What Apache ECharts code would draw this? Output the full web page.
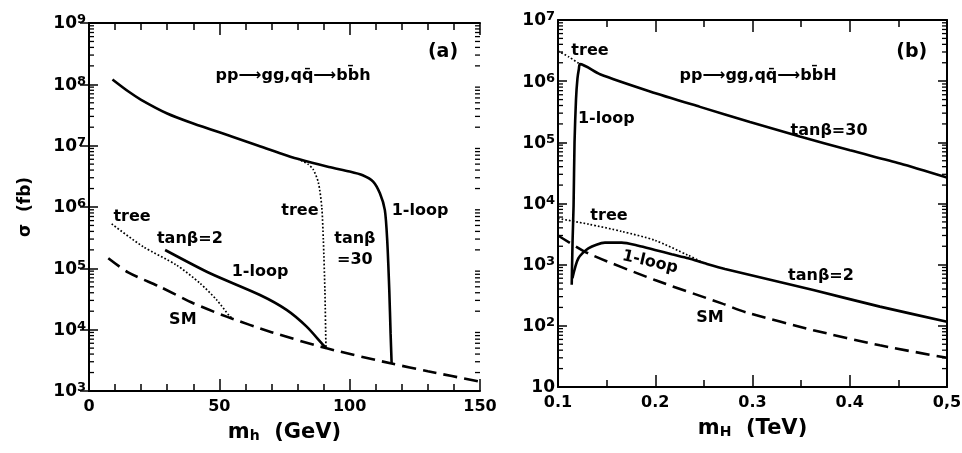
<!DOCTYPE html>
<html><head><meta charset="utf-8">
<script src="https://cdn.jsdelivr.net/npm/echarts@6/dist/echarts.min.js"></script>
<style>html,body{margin:0;padding:0;background:#fff}#c{width:962px;height:453px}</style>
</head><body><div id="c"></div>
<script>
// ---------- data: panel (a), m_h in GeV, sigma in fb ----------
const aTan30Loop = [[9,1.2e8],[15,7.7e7],[20,5.6e7],[30,3.35e7],[40,2.3e7],[55,1.4e7],[65,1.0e7],[73,7.6e6],[80,6.1e6],[92,4.5e6],[100,3.8e6],[105,3.3e6],[109,2.6e6],[111.6,1.67e6],[113.5,8.9e5],[114.4,2.9e5],[115.2,4.4e4],[115.7,8.7e3],[116.1,2.8e3]];
const aTan30Tree = [[80,6.1e6],[84,5.0e6],[86,4.1e6],[88,2.5e6],[89.3,1.0e6],[89.9,2.9e5],[90.5,4.4e4],[90.9,5.3e3],[91,5.0e3]];
const aTan2Loop = [[29.2,1.99e5],[46.4,8.3e4],[65.6,3.67e4],[75.8,2.1e4],[83.5,1.12e4],[89.9,5.6e3],[91.2,4.97e3]];
const aTan2Tree = [[8.7,5.3e5],[20.8,2.25e5],[33.6,1.13e5],[42.6,5.7e4],[49,3.05e4],[54.1,1.63e4],[55,1.55e4]];
const aSM = [[7.4,1.46e5],[15,8.6e4],[27.2,5.0e4],[40,2.7e4],[52.8,1.63e4],[70,9.1e3],[91.2,4.97e3],[116.1,2.8e3],[130,2.1e3],[150,1.42e3]];
// ---------- data: panel (b), m_H in TeV ----------
const bTan30Loop = [[0.1141,470],[0.1150,2500],[0.1160,9e3],[0.1170,1e5],[0.1185,5e5],[0.1200,1.1e6],[0.1215,1.6e6],[0.1226,1.9e6],[0.1432,1.3e6],[0.1946,6.8e5],[0.246,3.8e5],[0.2974,2.15e5],[0.3488,1.25e5],[0.4003,7.4e4],[0.4517,4.5e4],[0.5,2.65e4]];
const bTan30Tree = [[0.1,3.1e6],[0.111,2.5e6],[0.1226,1.9e6]];
const bTan2Loop = [[0.1148,600],[0.1209,1270],[0.1312,1850],[0.1483,2290],[0.1655,2290],[0.1826,2040],[0.1997,1740],[0.2169,1480],[0.234,1270],[0.2512,1050],[0.2717,850],[0.3625,385],[0.431,206],[0.5,117]];
const bTan2Tree = [[0.1,5700],[0.1312,4600],[0.1655,3500],[0.1997,2500],[0.234,1420],[0.248,1100]];
const bSM = [[0.1,3000],[0.1312,1530],[0.1997,561],[0.2683,233],[0.294,165],[0.3625,85],[0.431,48],[0.5,30]];
// ---------- axes / ticks ----------
const aXRange = [0, 150];
const aYRange = [1e3, 1e9];
const bXRange = [0.1, 0.5];
const bYRange = [10, 1e7];
const bXTicks = [0.1, 0.2, 0.3, 0.4, 0.5];
const bXTickLabels = ['0.1', '0.2', '0.3', '0.4', '0,5'];
const minorMult = [2,3,4,5,6,7,8,9];
// ---------- annotations ----------
const aNotes = [
  {text:'(a)', x:135.8, y:3.3e8, big:true},
  {text:'pp⟶gg,qq̄⟶bb̄h', x:78.3, y:1.37e8},
  {text:'tree', x:16.5, y:6.9e5},
  {text:'tanβ=2', x:38.7, y:3.0e5},
  {text:'1-loop', x:65.6, y:8.7e4},
  {text:'SM', x:36, y:1.44e4},
  {text:'tree', x:80.9, y:8.6e5},
  {text:'tanβ', x:102, y:3.0e5},
  {text:'=30', x:102, y:1.37e5},
  {text:'1-loop', x:127, y:8.6e5}
];
const bNotes = [
  {text:'(b)', x:0.4637, y:3.0e6, big:true},
  {text:'pp⟶gg,qq̄⟶bb̄H', x:0.3057, y:1.21e6},
  {text:'tree', x:0.1329, y:3.1e6},
  {text:'1-loop', x:0.1497, y:2.4e5},
  {text:'tanβ=30', x:0.3787, y:1.55e5},
  {text:'tree', x:0.1524, y:6.2e3},
  {text:'1-loop', x:0.1946, y:1.1e3, rotate:-13},
  {text:'tanβ=2', x:0.3704, y:653},
  {text:'SM', x:0.2563, y:134}
];

const FONT = 'DejaVu Sans';
const BLACK = '#000';

function minorValues(range){
  const out = [];
  for (let e = Math.round(Math.log10(range[0])); Math.pow(10,e) < range[1]; e++) {
    minorMult.forEach(m => out.push(m * Math.pow(10, e)));
  }
  return out;
}
function yFmt(v){
  const e = Math.round(Math.log10(v));
  return e === 1 ? '{b|10}' : '{b|10}{s|' + e + '}';
}
const yRich = {
  b:{fontSize:17, fontWeight:'bold', fontFamily:FONT, color:BLACK, lineHeight:19, padding:[9,0,0,0], verticalAlign:'bottom'},
  s:{fontSize:13, fontWeight:'bold', fontFamily:FONT, color:BLACK, lineHeight:14, verticalAlign:'top'}
};
const lineAx = {show:true, lineStyle:{color:BLACK, width:2}};

function xAxis(gi, pos, range, interval, minorSplit, showLabels, fmt, name){
  return {
    type:'value', gridIndex:gi, position:pos, min:range[0], max:range[1], interval:interval,
    axisLine:lineAx, splitLine:{show:false},
    axisTick:{show:true, inside:true, length:12, lineStyle:{color:BLACK, width:1.5}},
    minorTick:{show:true, splitNumber:minorSplit, length:7, lineStyle:{color:BLACK, width:1.5}},
    axisLabel:{show:showLabels, margin:8, color:BLACK, fontSize:16, fontWeight:'bold', fontFamily:FONT, formatter:fmt},
    name: name || '', nameLocation:'middle', nameGap:31,
    nameTextStyle:{rich:{
      m:{fontSize:21, fontWeight:'bold', fontFamily:FONT, color:BLACK, lineHeight:21, padding:[0,0,10,0], verticalAlign:'top'},
      sub:{fontSize:14, fontWeight:'bold', fontFamily:FONT, color:BLACK, lineHeight:14, verticalAlign:'bottom'}
    }}
  };
}
function yAxis(gi, pos, range, showLabels, name){
  return {
    type:'log', logBase:10, gridIndex:gi, position:pos, min:range[0], max:range[1],
    splitNumber: Math.round(Math.log10(range[1]/range[0])),
    axisLine:lineAx, splitLine:{show:false},
    axisTick:{show:true, inside:true, length:9, lineStyle:{color:BLACK, width:1.5}},
    axisLabel:{show:showLabels, margin:3, formatter:yFmt, rich:yRich},
    name: name || '', nameLocation:'middle', nameGap:55, nameRotate:90,
    nameTextStyle:{color:BLACK, fontSize:17, fontWeight:'bold', fontFamily:FONT}
  };
}

function curve(gi, data, kind){
  const ls = {color:BLACK, width:2.6, type:'solid', cap:'butt'};
  if (kind === 'dot') { ls.width = 1.7; ls.type = [1.7, 2.0]; }
  if (kind === 'dash') { ls.type = [14, 7]; }
  return {type:'line', xAxisIndex:gi*2, yAxisIndex:gi*2, data:data, symbol:'none', showSymbol:false,
          smooth:0.25, lineStyle:ls, silent:true, z:3};
}
function minorSeries(gi, xMin, yRange){
  return {
    type:'custom', xAxisIndex:gi*2, yAxisIndex:gi*2, silent:true, clip:false, z:4,
    data: minorValues(yRange).map(v => [xMin, v]),
    renderItem:(params, api) => {
      const cs = params.coordSys;
      const y = api.coord([api.value(0), api.value(1)])[1];
      const st = {stroke:BLACK, lineWidth:1.3};
      return {type:'group', children:[
        {type:'line', shape:{x1:cs.x, y1:y, x2:cs.x + 5, y2:y}, style:st},
        {type:'line', shape:{x1:cs.x + cs.width, y1:y, x2:cs.x + cs.width - 5, y2:y}, style:st}
      ]};
    }
  };
}
function notesSeries(gi, notes){
  return {
    type:'scatter', xAxisIndex:gi*2, yAxisIndex:gi*2, symbolSize:0, silent:true, z:6,
    itemStyle:{opacity:1, color:BLACK},
    data: notes.map(n => ({value:[n.x, n.y], name:n.text,
      label:{rotate:n.rotate || 0, fontSize: n.big ? 19 : 16, color:BLACK, opacity:1}})),
    label:{show:true, position:'inside', formatter:p => p.name, color:BLACK, opacity:1,
           textBorderWidth:0, fontWeight:'bold', fontFamily:FONT}
  };
}

const chart = echarts.init(document.getElementById('c'), null, {renderer:'canvas'});
chart.setOption({
  animation:false,
  backgroundColor:'#fff',
  grid:[
    {left:89, top:23, width:391, height:368, containLabel:false, outerBoundsMode:'none'},
    {left:558, top:20, width:389, height:367, containLabel:false, outerBoundsMode:'none'}
  ],
  xAxis:[
    xAxis(0, 'bottom', aXRange, 50, 5, true, v => String(v), '{m|m}{sub|h}{m|  (GeV)}'),
    xAxis(0, 'top', aXRange, 50, 5, false),
    xAxis(1, 'bottom', bXRange, 0.1, 2, true, v => {
      const i = bXTicks.findIndex(t => Math.abs(t - v) < 1e-9);
      return i >= 0 ? bXTickLabels[i] : '';
    }, '{m|m}{sub|H}{m|  (TeV)}'),
    xAxis(1, 'top', bXRange, 0.1, 2, false)
  ],
  yAxis:[
    yAxis(0, 'left', aYRange, true, 'σ  (fb)'),
    yAxis(0, 'right', aYRange, false),
    yAxis(1, 'left', bYRange, true),
    yAxis(1, 'right', bYRange, false)
  ],
  series:[
    curve(0, aTan30Loop, 'solid'),
    curve(0, aTan30Tree, 'dot'),
    curve(0, aTan2Loop, 'solid'),
    curve(0, aTan2Tree, 'dot'),
    curve(0, aSM, 'dash'),
    curve(1, bTan30Loop, 'solid'),
    curve(1, bTan30Tree, 'dot'),
    curve(1, bTan2Loop, 'solid'),
    curve(1, bTan2Tree, 'dot'),
    curve(1, bSM, 'dash'),
    minorSeries(0, aXRange[0], aYRange),
    minorSeries(1, bXRange[0], bYRange),
    notesSeries(0, aNotes),
    notesSeries(1, bNotes)
  ]
});
</script>
</body></html>
